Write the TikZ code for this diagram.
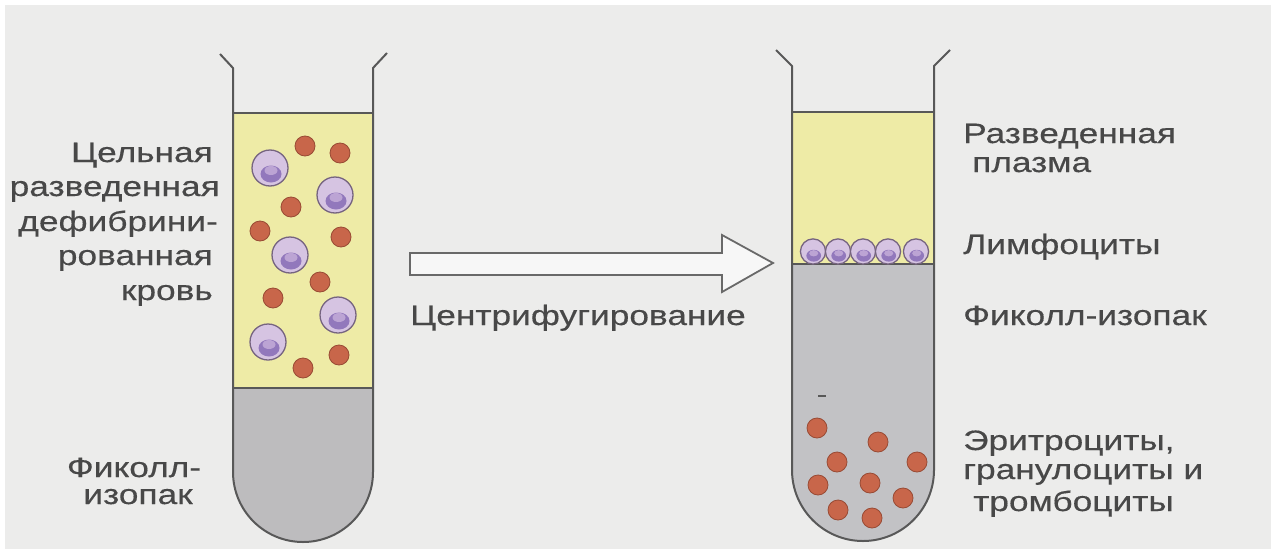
\documentclass[tikz,border=0pt]{standalone}
\usepackage{fontspec}
\setmainfont{Liberation Sans}[FakeStretch=1.26, FakeBold=0.4]
\definecolor{paper}{RGB}{236,236,235}
\definecolor{glasswall}{RGB}{88,88,88}
\definecolor{plasma}{RGB}{238,235,166}
\definecolor{ficoll}{RGB}{189,188,190}
\definecolor{ficollb}{RGB}{194,194,197}
\definecolor{inktext}{RGB}{72,72,72}
\definecolor{lymphbody}{RGB}{214,196,226}
\definecolor{lymphnuc}{RGB}{146,120,188}
\definecolor{lymphpale}{RGB}{188,164,212}
\definecolor{lymphedge}{RGB}{118,100,128}
\definecolor{rbcfill}{RGB}{200,102,74}
\definecolor{rbcedge}{RGB}{152,74,52}
\definecolor{arrowedge}{RGB}{105,105,105}
\begin{document}
\begin{tikzpicture}[x=1pt,y=-1pt,
  wall/.style={draw=glasswall, line width=2pt, line join=round},
  level/.style={draw=glasswall, line width=1.6pt},
  rbc/.style={fill=rbcfill, draw=rbcedge, line width=0.8pt},
  lbl/.style={inner sep=0pt, text=inktext, font=\fontsize{28}{34}\selectfont},
  lymph/.pic={
    \fill[lymphbody] (0,0) circle (18);
    \fill[lymphnuc] (1,6) ellipse (10.5 and 8.5);
    \fill[lymphpale] (1,2.5) ellipse (6.5 and 4.5);
    \draw[lymphedge, line width=1.3pt] (0,0) circle (18);
  }]
\useasboundingbox (0,0) rectangle (1276,554);
\fill[white] (0,0) rectangle (1276,554);
\fill[paper] (5,5) rectangle (1271,549);

% ---- tube before centrifugation ----
\fill[plasma] (233,113) rectangle (373,388);
\fill[ficoll] (233,388) -- (233,472) .. controls (233,510.66) and (264.34,542) .. (303,542)
  .. controls (341.66,542) and (373,510.66) .. (373,472) -- (373,388) -- cycle;
\draw[level] (233,113) -- (373,113);
\draw[level] (233,388) -- (373,388);

\path[rbc] (305,146) circle (10);
\path[rbc] (340,153) circle (10);
\path[rbc] (291,207) circle (10);
\path[rbc] (260,231) circle (10);
\path[rbc] (341,237) circle (10);
\path[rbc] (320,282) circle (10);
\path[rbc] (273,298) circle (10);
\path[rbc] (339,355) circle (10);
\path[rbc] (303,368) circle (10);
\pic at (270,168) {lymph};
\pic at (335,195) {lymph};
\pic at (290,255) {lymph};
\pic at (338,315) {lymph};
\pic at (268,342) {lymph};

\draw[wall] (220,54) -- (233,68) -- (233,472) .. controls (233,510.66) and (264.34,542) .. (303,542)
  .. controls (341.66,542) and (373,510.66) .. (373,472) -- (373,68) -- (387,53);

% ---- tube after centrifugation ----
\fill[plasma] (792,112) rectangle (934,264);
\fill[ficollb] (792,264) -- (792,470) .. controls (792,509.2) and (823.8,541) .. (863,541)
  .. controls (902.2,541) and (934,509.2) .. (934,470) -- (934,264) -- cycle;
\draw[level] (792,112) -- (934,112);
\draw[level] (792,264) -- (934,264);

\foreach \cx in {813,838,863,888,916}
  \pic[scale=0.7] at (\cx,251.5) {lymph};

\foreach \cx/\cy in {817/428,878/442,837/462,917/462,818/485,870/483,903/498,838/510,872/518}
  \path[rbc] (\cx,\cy) circle (10);
\draw[glasswall, line width=1.5pt] (818,396) -- (826,396);

\draw[wall] (776,50) -- (792,66) -- (792,470) .. controls (792,509.2) and (823.8,541) .. (863,541)
  .. controls (902.2,541) and (934,509.2) .. (934,470) -- (934,66) -- (950,50);

% ---- hollow arrow ----
\draw[draw=arrowedge, fill=white!60!paper, line width=1.8pt, line join=miter]
  (410,253) -- (722,253) -- (722,235) -- (773,263) -- (722,292) -- (722,275) -- (410,275) -- cycle;

% ---- labels ----
\node[lbl, anchor=base east] (w1) at (213,162) {Цельная};
\node[lbl, anchor=base east] (w2) at (220,196) {разведенная};
\node[lbl, anchor=base east] (w3) at (218,231) {дефибрини-};
\node[lbl, anchor=base east] (w4) at (213,265) {рованная};
\node[lbl, anchor=base east] (w5) at (213,300) {кровь};
\node[lbl, anchor=base] (f1) at (134,477) {Фиколл-};
\node[lbl, anchor=base] (f2) at (138,504) {изопак};

\node[lbl, anchor=base west] (cf) at (410,325) {Центрифугирование};

\node[lbl, anchor=base west] (p1) at (963,143) {Разведенная};
\node[lbl, anchor=base west] (p2) at (972,172) {плазма};
\node[lbl, anchor=base west] (ly) at (963,254) {Лимфоциты};
\node[lbl, anchor=base west] (fi) at (963,325) {Фиколл-изопак};
\node[lbl, anchor=base west] (e1) at (963,450) {Эритроциты,};
\node[lbl, anchor=base west] (e2) at (963,479) {гранулоциты и};
\node[lbl, anchor=base west] (e3) at (973,511) {тромбоциты};
\end{tikzpicture}
\end{document}
